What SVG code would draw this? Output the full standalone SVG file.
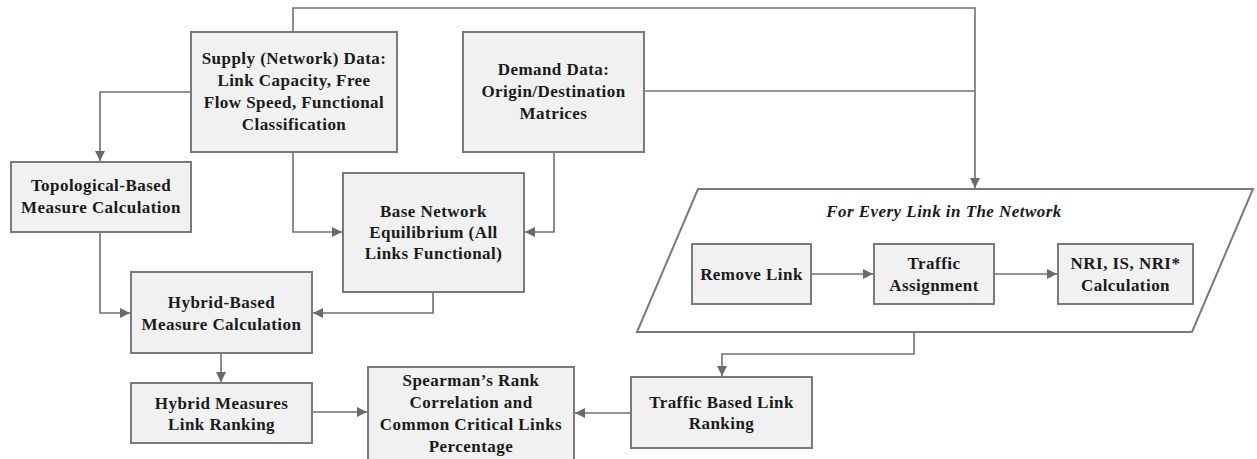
<svg xmlns="http://www.w3.org/2000/svg" width="1257" height="459" viewBox="0 0 1257 459">
<style>
.box{fill:#f1f1f1;stroke:#7a7a7a;stroke-width:2}
.t{font-family:"Liberation Serif","Times New Roman",serif;font-weight:bold;font-size:17px;letter-spacing:0.45px;fill:#1a1a1a;text-anchor:middle}
.ti{font-style:italic}
.c{fill:none;stroke:#707070;stroke-width:1.6}
</style>
<defs>
<marker id="ah" viewBox="0 0 10 10" refX="10" refY="5" markerWidth="10" markerHeight="10" markerUnits="userSpaceOnUse" orient="auto">
<path d="M0,0 L10,5 L0,10 Z" fill="#6a6a6a"/>
</marker>
</defs>
<rect width="1257" height="459" fill="#ffffff"/>

<g id="loop">
<polygon points="698,189 1253,189 1192,332 637,332" fill="#ffffff" stroke="#7a7a7a" stroke-width="2"/>
<text class="t ti" x="944" y="217">For Every Link in The Network</text>
</g>

<g id="connectors">
<path class="c" d="M293,32 V8 H975 V188" marker-end="url(#ah)"/>
<path class="c" d="M644,91 H975"/>
<path class="c" d="M191,92 H100 V161" marker-end="url(#ah)"/>
<path class="c" d="M293,152 V232 H342" marker-end="url(#ah)"/>
<path class="c" d="M554,152 V232 H525" marker-end="url(#ah)"/>
<path class="c" d="M100,232 V313 H130" marker-end="url(#ah)"/>
<path class="c" d="M433,292 V313 H313" marker-end="url(#ah)"/>
<path class="c" d="M221,353 V382" marker-end="url(#ah)"/>
<path class="c" d="M312,412 H367" marker-end="url(#ah)"/>
<path class="c" d="M631,413 H575" marker-end="url(#ah)"/>
<path class="c" d="M914,332 V354 H722 V376" marker-end="url(#ah)"/>
<path class="c" d="M811,274 H873" marker-end="url(#ah)"/>
<path class="c" d="M994,274 H1057" marker-end="url(#ah)"/>
</g>

<g id="supply">
<rect class="box" x="191" y="32" width="206" height="120"/>
<text class="t" x="294" y="64">Supply (Network) Data:</text>
<text class="t" x="294" y="86">Link Capacity, Free</text>
<text class="t" x="294" y="108">Flow Speed, Functional</text>
<text class="t" x="294" y="130">Classification</text>
</g>

<g id="demand">
<rect class="box" x="463" y="32" width="181" height="120"/>
<text class="t" x="553.5" y="75">Demand Data:</text>
<text class="t" x="553.5" y="97">Origin/Destination</text>
<text class="t" x="553.5" y="119">Matrices</text>
</g>

<g id="topological">
<rect class="box" x="11" y="162" width="180" height="70"/>
<text class="t" x="101" y="191">Topological-Based</text>
<text class="t" x="101" y="213">Measure Calculation</text>
</g>

<g id="base">
<rect class="box" x="343" y="173" width="181" height="119"/>
<text class="t" x="433.5" y="217">Base Network</text>
<text class="t" x="433.5" y="238">Equilibrium (All</text>
<text class="t" x="433.5" y="259">Links Functional)</text>
</g>

<g id="hybridBased">
<rect class="box" x="131" y="272" width="181" height="81"/>
<text class="t" x="221.5" y="308">Hybrid-Based</text>
<text class="t" x="221.5" y="330">Measure Calculation</text>
</g>

<g id="hybridRanking">
<rect class="box" x="131" y="383" width="181" height="60"/>
<text class="t" x="221.5" y="409">Hybrid Measures</text>
<text class="t" x="221.5" y="430">Link Ranking</text>
</g>

<g id="spearman">
<rect class="box" x="368" y="367" width="206" height="100"/>
<text class="t" x="471" y="386">Spearman’s Rank</text>
<text class="t" x="471" y="408">Correlation and</text>
<text class="t" x="471" y="430">Common Critical Links</text>
<text class="t" x="471" y="452">Percentage</text>
</g>

<g id="trafficRanking">
<rect class="box" x="631" y="377" width="181" height="71"/>
<text class="t" x="721.5" y="408">Traffic Based Link</text>
<text class="t" x="721.5" y="429">Ranking</text>
</g>

<g id="removeLink">
<rect class="box" x="692" y="244" width="119" height="60"/>
<text class="t" x="751.5" y="280">Remove Link</text>
</g>

<g id="trafficAssignment">
<rect class="box" x="874" y="244" width="120" height="60"/>
<text class="t" x="934" y="269">Traffic</text>
<text class="t" x="934" y="291">Assignment</text>
</g>

<g id="nri">
<rect class="box" x="1058" y="244" width="135" height="60"/>
<text class="t" x="1125.5" y="269">NRI, IS, NRI*</text>
<text class="t" x="1125.5" y="291">Calculation</text>
</g>
</svg>
